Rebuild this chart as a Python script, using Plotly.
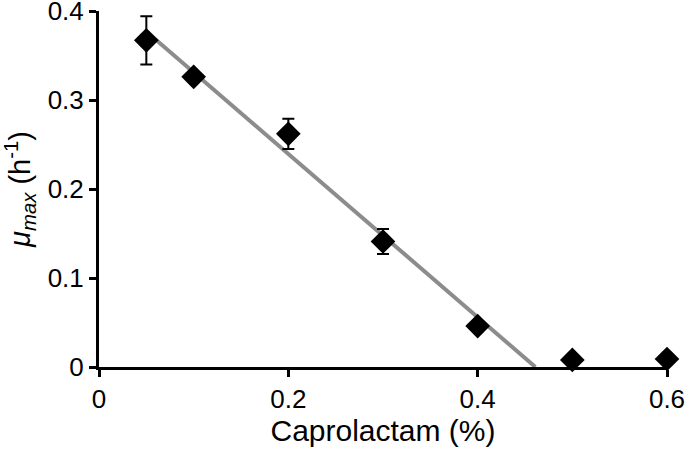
import plotly.graph_objects as go

# measured points
caprolactam = [0.05, 0.1, 0.2, 0.3, 0.4, 0.5, 0.6]
mu_max = [0.367, 0.326, 0.262, 0.141, 0.046, 0.008, 0.009]
mu_err = [0.027, 0.005, 0.017, 0.014, 0.004, 0.0, 0.0]

# linear fit drawn through the decreasing part
fit_x = [0.05, 0.461]
fit_y = [0.377, 0.0]

font = "Liberation Sans, Arial, sans-serif"

fig = go.Figure()

fig.add_trace(
    go.Scatter(
        x=fit_x,
        y=fit_y,
        mode="lines",
        line=dict(color="#8c8c8c", width=4),
        showlegend=False,
        hoverinfo="skip",
    )
)

fig.add_trace(
    go.Scatter(
        x=caprolactam,
        y=mu_max,
        mode="markers",
        marker=dict(symbol="diamond", size=19, color="black"),
        error_y=dict(type="data", array=mu_err, color="black", thickness=2, width=6),
        cliponaxis=False,
        showlegend=False,
    )
)

axis_common = dict(
    showline=True,
    linecolor="black",
    linewidth=3,
    ticks="outside",
    ticklen=7,
    tickwidth=3,
    tickcolor="black",
    showgrid=False,
    zeroline=False,
    automargin=False,
    ticklabeloverflow="allow",
    tickfont=dict(family=font, size=26, color="black"),
)

fig.update_xaxes(
    range=[0, 0.6],
    tickvals=[0, 0.2, 0.4, 0.6],
    ticktext=["0", "0.2", "0.4", "0.6"],
    title=dict(text="Caprolactam (%)", font=dict(family=font, size=30, color="black"), standoff=5),
    **axis_common,
)
fig.update_yaxes(
    range=[0, 0.4],
    tickvals=[0, 0.1, 0.2, 0.3, 0.4],
    ticktext=["0", "0.1", "0.2", "0.3", "0.4"],
    title=dict(
        text="<i>μ</i><sub><i>max</i></sub> (h<sup>-1</sup>)",
        font=dict(family=font, size=29, color="black"),
        standoff=10,
    ),
    **axis_common,
)

fig.update_layout(
    width=685,
    height=451,
    margin=dict(l=99, r=18, t=11, b=84),
    plot_bgcolor="white",
    paper_bgcolor="white",
)

# drop the default page margin so the figure sits at the window corner
fig.write_html(
    "out.html",
    config={"displayModeBar": False},
    post_script="document.body.style.margin = '0';",
)
